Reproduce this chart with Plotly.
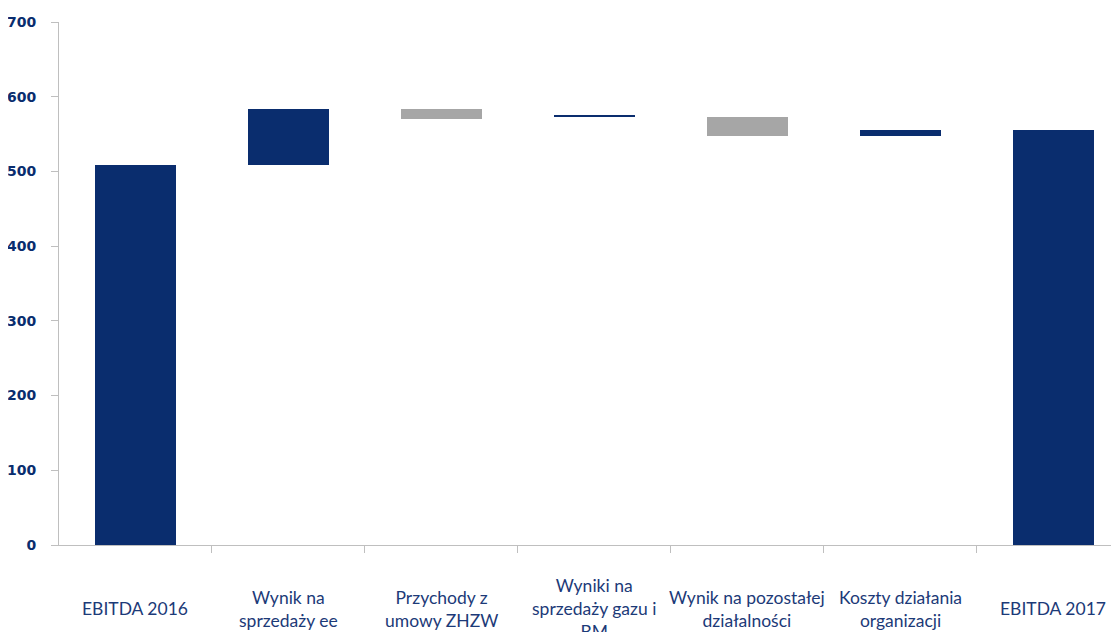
import plotly.graph_objects as go

# category labels (shown under the axis)
categories = ["EBITDA 2016", "Wynik na<br>sprzedaży ee", "Przychody z<br>umowy ZHZW",
              "Wyniki na<br>sprzedaży gazu i<br>BM", "Wynik na pozostałej<br>działalności",
              "Koszty działania<br>organizacji", "EBITDA 2017"]
# where each bar starts and ends (mln zł)
start_vals = [0, 508, 583, 574, 573, 548, 0]
end_vals = [508, 583, 570, 575.5, 548, 555.5, 555.5]
y_ticks = [0, 100, 200, 300, 400, 500, 600, 700]

NAVY = "#0a2d6e"
GREY = "#a6a6a6"

bases = [min(a, b) for a, b in zip(start_vals, end_vals)]
heights = [abs(b - a) for a, b in zip(start_vals, end_vals)]
colors = [NAVY if b >= a else GREY for a, b in zip(start_vals, end_vals)]
xs = list(range(len(categories)))
# tick marks sit between the categories
x_bounds = [i + 0.5 for i in xs[:-1]]

fig = go.Figure(go.Bar(x=xs, y=heights, base=bases, width=0.53,
                       marker=dict(color=colors, line=dict(width=0))))

# labels under the axis, centred vertically like the original
for i, lab in enumerate(categories):
    fig.add_annotation(x=i, xref="x", y=-0.1215, yref="paper", text=lab,
                       showarrow=False, yanchor="middle", align="center",
                       font=dict(family="Lato", size=17.5, color="#1c3a78"))

# page body has an 8px margin, so the figure is a bit smaller than the window
fig.update_layout(
    width=1111, height=624,
    margin=dict(l=51, r=0, t=14, b=87),
    plot_bgcolor="white", paper_bgcolor="white",
    showlegend=False, bargap=0,
    xaxis=dict(range=[-0.5, 6.43], tickvals=x_bounds, showticklabels=False,
               ticks="outside", ticklen=7, tickcolor="#bfbfbf",
               showline=True, linecolor="#bfbfbf", linewidth=1, showgrid=False, zeroline=False),
    yaxis=dict(range=[0, 700], tickvals=y_ticks, ticks="outside", ticklen=7,
               tickcolor="#bfbfbf", showline=True, linecolor="#bfbfbf", linewidth=1,
               showgrid=False, zeroline=False, ticklabelstandoff=12,
               tickfont=dict(family="DejaVu Sans", size=14, color=NAVY, weight="bold")),
)

fig.write_html("out.html")
